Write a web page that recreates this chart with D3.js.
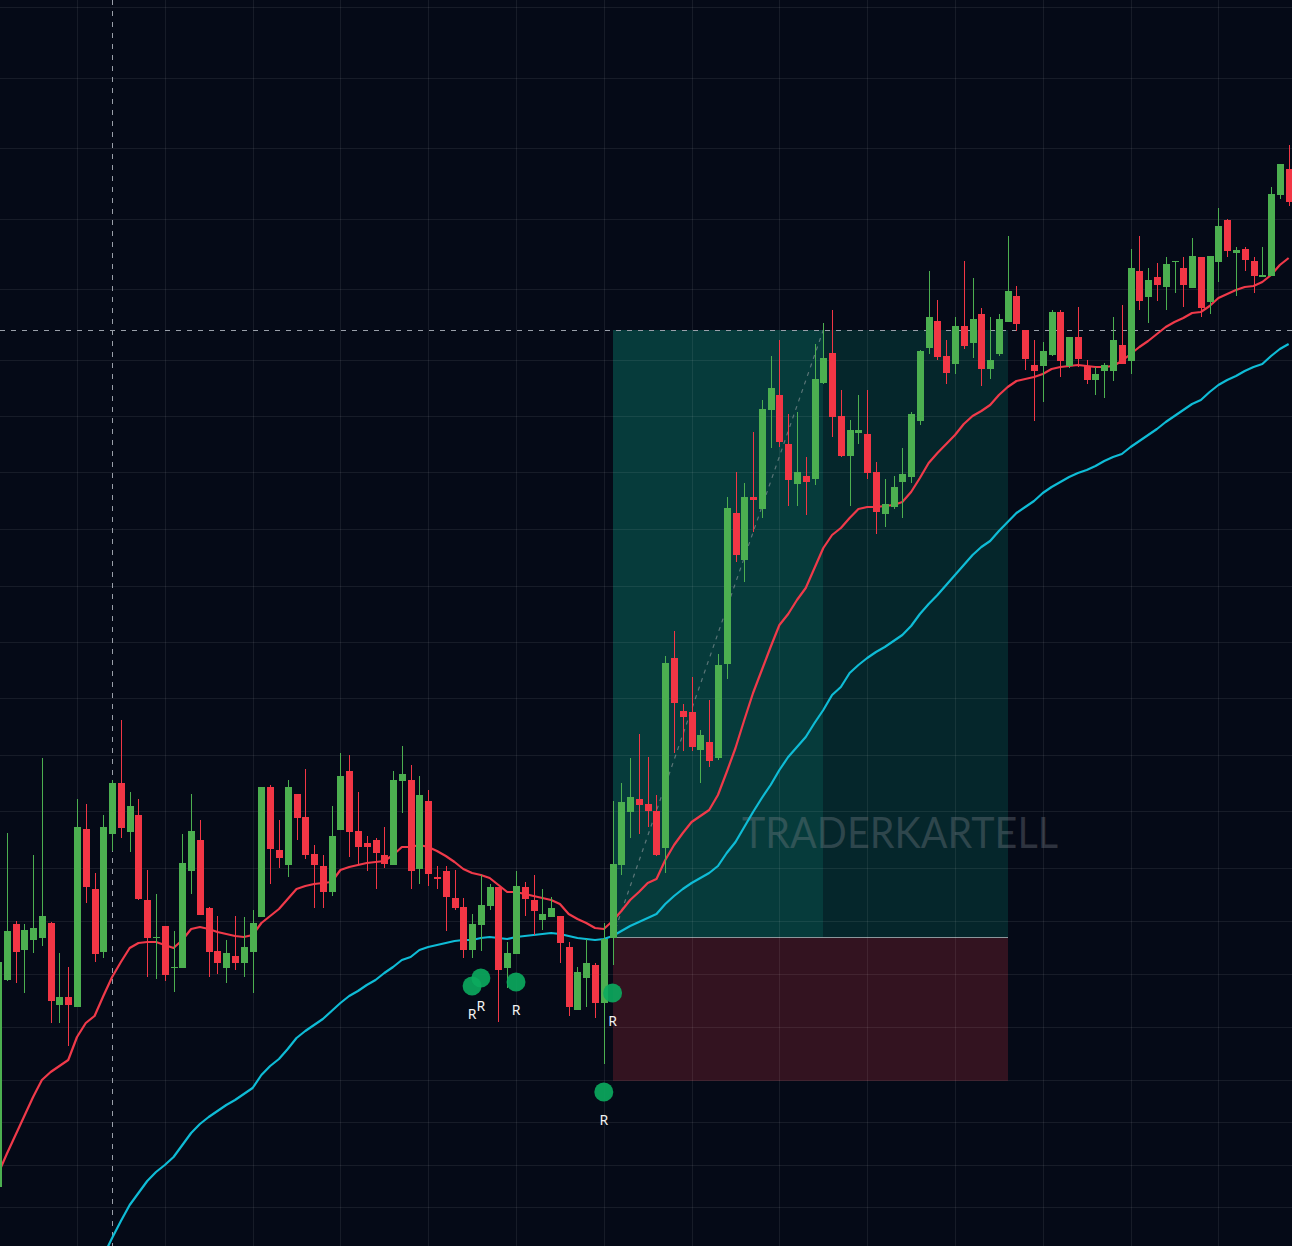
<!DOCTYPE html>
<html><head><meta charset="utf-8">
<script src="https://cdn.jsdelivr.net/npm/d3@7"></script>
<style>html,body{margin:0;padding:0;background:#050a17;overflow:hidden}svg{display:block}</style>
</head><body><svg id="c" width="1292" height="1246"></svg>
<script>
// ---------- DATA (bar position 0 = first, partly hidden bar) ----------
const open = [5.9,
26.6,32.2,29.6,30.6,30.8,32.3,24.1,24.9,23.9,41.7,
35.7,29.4,41.2,46.3,41.4,43.1,34.6,30.8,32.0,27.8,
27.8,37.5,40.6,33.8,29.5,27.8,29.0,28.3,29.4,32.9,
45.9,39.6,38.1,45.2,42.9,39.2,38.0,35.4,41.6,47.5,
41.5,40.3,40.6,39.1,38.1,46.5,46.6,37.7,44.5,36.9,
37.5,34.8,33.9,29.6,32.1,34.0,35.9,27.8,29.2,35.9,
34.6,32.6,32.9,33.0,29.9,23.6,26.8,28.1,24.3,30.8,
38.1,43.4,44.7,44.2,43.5,39.8,58.8,53.5,53.4,49.6,
50.4,48.8,58.2,73.3,68.6,74.9,73.7,83.6,85.1,80.2,
76.2,77.0,76.7,86.3,89.3,83.0,79.0,81.3,81.2,77.4,
73.2,73.9,76.4,76.9,82.5,89.8,92.5,89.0,88.2,92.0,
90.3,93.2,87.7,89.2,92.4,95.0,91.6,88.1,88.0,89.1,
93.4,88.0,90.9,88.0,86.6,87.5,87.5,90.1,88.5,97.5,
94.9,96.9,95.9,98.4,97.8,95.8,98.9,94.4,98.4,102.6,
99.3,99.7,98.5,96.9,97.0,105.1,107.7];
const high = [29.1,
41.3,32.5,32.2,39.1,48.8,32.4,29.3,27.9,44.7,44.2,
37.3,43.1,46.6,52.6,45.4,44.7,37.6,35.2,32.0,31.5,
41.2,45.2,42.6,33.9,33.0,30.6,33.0,32.9,33.6,45.9,
46.1,42.6,46.6,45.2,47.7,40.1,39.1,44.0,49.3,49.1,
45.4,41.0,40.8,41.9,47.5,50.0,48.1,47.0,45.6,38.0,
38.0,37.6,34.8,33.2,37.1,36.2,35.9,30.4,37.5,36.4,
37.1,35.7,34.9,33.0,30.4,27.9,30.7,28.3,32.3,44.5,
46.3,48.8,51.2,48.9,45.1,59.0,61.5,54.2,56.9,51.6,
54.6,59.2,74.9,77.4,76.3,81.4,84.6,89.0,90.6,83.2,
83.4,78.9,90.2,92.3,93.6,85.6,82.6,85.1,85.6,78.4,
76.7,77.0,79.8,83.4,89.6,97.5,94.6,90.6,92.9,98.5,
96.8,93.8,92.9,93.2,101.0,96.0,91.6,90.6,90.4,93.6,
93.6,90.9,93.9,88.6,87.9,88.3,92.9,94.1,99.7,101.0,
97.8,98.3,98.9,98.5,98.9,100.8,98.9,99.0,103.8,102.7,
99.9,99.9,98.9,99.9,105.9,108.2,110.1];
const low = [5.6,
26.5,26.3,25.3,29.3,30.0,22.3,22.3,20.0,23.9,34.3,
28.4,28.8,39.5,40.8,39.4,34.6,26.9,26.7,26.5,25.4,
27.8,35.2,33.1,26.9,27.2,26.3,27.6,26.9,25.3,32.9,
36.2,37.8,36.9,40.6,38.7,33.8,33.8,35.0,41.6,38.9,
38.2,37.5,35.7,37.8,38.1,43.3,35.7,36.2,36.0,35.7,
31.5,33.6,28.8,28.8,29.5,33.6,22.4,25.8,29.2,33.0,
31.1,31.6,32.9,28.3,23.0,23.6,23.9,22.8,18.2,28.1,
37.1,40.8,41.2,41.9,39.0,37.3,49.3,49.5,49.5,46.3,
47.9,48.6,56.7,68.4,66.4,71.4,72.8,79.8,79.9,74.0,
74.0,73.1,76.1,86.2,80.9,78.9,74.0,80.2,76.7,71.2,
71.9,73.7,72.8,76.3,82.1,89.2,88.6,86.2,87.2,89.7,
88.8,86.0,86.7,89.0,92.4,91.5,87.6,82.5,84.4,89.0,
86.9,87.8,87.9,86.2,85.1,84.8,86.5,88.2,87.2,93.6,
92.3,94.5,93.6,95.3,93.9,95.8,92.9,93.2,96.4,98.9,
95.0,97.5,95.3,96.9,97.0,104.7,104.0];
const close = [28.4,
31.5,29.4,31.6,31.8,33.0,24.5,24.9,24.1,41.9,35.9,
29.2,41.9,46.3,41.8,44.0,34.7,30.8,30.9,27.1,27.9,
38.3,41.5,33.1,29.4,28.3,29.3,28.3,29.9,32.3,45.9,
39.7,38.8,45.9,42.8,39.1,38.1,35.4,41.0,47.0,41.4,
39.9,39.9,39.3,38.2,46.6,47.2,37.5,45.1,37.2,36.7,
34.9,33.8,29.6,32.2,34.1,35.9,27.6,29.3,36.0,34.7,
33.5,33.2,33.8,30.3,23.9,27.4,28.3,24.3,30.7,38.2,
44.4,44.9,44.1,43.5,39.1,58.3,54.3,52.9,49.9,51.1,
48.5,58.1,73.8,69.1,74.9,74.6,83.7,85.8,80.4,76.6,
77.4,76.4,86.7,88.8,82.9,79.0,81.6,81.6,77.3,73.4,
74.2,75.9,77.2,83.2,89.5,92.9,88.9,87.3,92.0,90.0,
92.7,87.7,88.6,92.7,95.5,92.2,88.7,87.5,89.5,93.4,
88.5,90.9,88.7,86.6,87.2,88.1,90.6,88.2,97.8,94.5,
96.6,96.1,98.2,98.5,96.1,99.0,93.8,99.0,102.0,99.5,
99.6,98.6,97.0,97.1,105.2,108.2,104.4];
// moving averages
const maFast = [7.2,
9.2,11.1,13.0,14.9,16.6,17.4,18.0,18.6,20.9,22.3,
23.0,25.0,26.9,28.4,29.8,30.3,30.4,30.4,30.1,29.8,
30.6,31.7,31.9,31.7,31.4,31.2,31.0,30.9,31.1,32.3,
33.0,33.7,34.7,35.7,36.0,36.2,36.3,36.4,37.6,37.9,
38.1,38.3,38.4,38.5,39.1,39.9,39.9,40.1,39.9,39.5,
39.0,38.4,37.7,37.3,37.1,36.8,36.1,35.4,35.4,35.2,
35.0,34.8,34.6,34.2,33.2,32.7,32.3,31.8,31.7,32.5,
33.5,34.6,35.4,36.3,36.7,38.6,40.1,41.3,42.4,43.0,
43.6,45.1,47.4,49.8,52.6,55.3,57.6,59.9,62.1,63.2,
64.6,65.8,67.8,69.8,71.1,71.8,72.8,73.7,73.9,73.9,
74.0,74.1,74.4,75.4,76.8,78.3,79.3,80.2,81.1,82.2,
83.0,83.5,84.1,85.1,85.9,86.5,86.7,86.9,87.2,87.7,
87.9,88.0,88.1,88.0,87.9,87.9,88.0,88.5,89.2,89.9,
90.5,91.2,91.9,92.4,92.8,93.3,93.4,94.0,94.8,95.2,
95.6,95.9,96.0,96.4,97.1,98.1,98.8];
const maSlow = [null,
null,null,null,null,null,null,null,null,null,null,
null,-1.0,0.8,2.5,4.1,5.3,6.5,7.4,8.1,8.9,
10.1,11.3,12.2,12.9,13.5,14.1,14.6,15.2,15.8,17.1,
18.0,18.7,19.7,20.8,21.5,22.1,22.7,23.5,24.3,25.0,
25.5,26.1,26.6,27.3,27.9,28.6,28.9,29.6,29.9,30.1,
30.3,30.5,30.6,30.6,30.8,30.9,30.8,30.7,30.9,31.0,
31.1,31.2,31.3,31.2,31.0,30.8,30.7,30.6,30.7,31.0,
31.5,32.0,32.4,32.8,33.2,34.2,35.0,35.7,36.3,36.8,
37.3,38.0,39.3,40.4,41.9,43.4,44.8,46.1,47.6,48.9,
49.9,50.9,52.3,53.6,55.1,55.9,57.3,58.1,58.8,59.4,
59.9,60.5,61.1,62.0,63.2,64.2,65.1,66.1,67.1,68.1,
69.1,69.9,70.5,71.5,72.4,73.3,73.9,74.5,75.3,75.9,
76.4,76.9,77.3,77.6,78.0,78.5,78.9,79.2,79.9,80.5,
81.1,81.7,82.4,83.0,83.6,84.2,84.6,85.4,86.1,86.6,
87.0,87.5,87.9,88.2,89.0,89.7,90.2];
// price grid levels and time grid bars
const priceTicks = [123.9,116.8,109.8,102.7,95.7,88.6,83.0,77.4,71.7,66.0,60.4,54.8,49.1,43.5,37.8,32.5,27.2,21.9,16.6,12.4,8.1,3.9];
const timeTicks = [9,19,29,39,49,59,69,79,89,99,109,119,129,139];
// signal markers ("R")
const markerBars = [54,55,59,69,70];
const markerPrices = [26.0,26.8,26.4,15.4,25.3];
// long position tool
const posEntryBar = 70, posHitBar = 94, posEndBar = 115;
const posEntry = 30.9, posTarget = 91.6, posStop = 16.5;
// crosshair
const crossBar = 13, crossPrice = 91.6;
const watermark = "TRADERKARTELL";

// ---------- CHART ----------
const W = 1292, H = 1246;
const svg = d3.select("#c");
const x = d3.scaleLinear().domain([0, 147]).range([-2.02, 1288.64]);
const y = d3.scaleLinear().domain([0, 124.6]).range([H, 0]);
const px = v => Math.round(x(v));
const py = v => Math.round(y(v));

svg.append("rect").attr("width", W).attr("height", H).attr("fill", "#050a17");

// position tool boxes
const pos = svg.append("g");
pos.append("rect").attr("x", px(posEntryBar)).attr("y", py(posTarget))
  .attr("width", px(posHitBar) - px(posEntryBar)).attr("height", py(posEntry) - py(posTarget)).attr("fill", "#063b3b");
pos.append("rect").attr("x", px(posHitBar)).attr("y", py(posTarget))
  .attr("width", px(posEndBar) - px(posHitBar)).attr("height", py(posEntry) - py(posTarget)).attr("fill", "#05262b");
pos.append("rect").attr("x", px(posEntryBar)).attr("y", py(posEntry))
  .attr("width", px(posEndBar) - px(posEntryBar)).attr("height", py(posStop) - py(posEntry)).attr("fill", "#331320");

// grid
const grid = svg.append("g").attr("stroke", "rgba(255,255,255,0.075)").attr("stroke-width", 1);
grid.selectAll("line.h").data(priceTicks).join("line")
  .attr("x1", 0).attr("x2", W).attr("y1", d => py(d) + 0.5).attr("y2", d => py(d) + 0.5);
grid.selectAll("line.v").data(timeTicks).join("line")
  .attr("y1", 0).attr("y2", H).attr("x1", d => px(d) + 0.5).attr("x2", d => px(d) + 0.5);

// watermark
svg.append("text").text(watermark)
  .attr("x", 742).attr("y", 848)
  .attr("font-family", "Lato, 'Open Sans', sans-serif").attr("font-size", 43)
  .attr("textLength", 316).attr("lengthAdjust", "spacingAndGlyphs")
  .attr("fill", "rgba(126,132,140,0.34)");

// crosshair
svg.append("line").attr("x1", px(crossBar) + 0.5).attr("x2", px(crossBar) + 0.5).attr("y1", 0).attr("y2", H)
  .attr("stroke", "#9aa0aa").attr("stroke-dasharray", "5,6");
svg.append("line").attr("x1", 0).attr("x2", W).attr("y1", py(crossPrice) + 0.5).attr("y2", py(crossPrice) + 0.5)
  .attr("stroke", "#9aa0aa").attr("stroke-dasharray", "5,6");

// entry line & diagonal
pos.append("line").attr("x1", px(posEntryBar)).attr("x2", px(posEndBar))
  .attr("y1", py(posEntry) + 0.5).attr("y2", py(posEntry) + 0.5).attr("stroke", "#8b979c");
svg.append("line").attr("x1", x(posEntryBar)).attr("y1", y(posEntry))
  .attr("x2", x(posHitBar)).attr("y2", y(posTarget))
  .attr("stroke", "rgba(160,165,170,0.55)").attr("stroke-dasharray", "4,5").attr("stroke-width", 1.2);

// moving averages
const line = d3.line().defined(d => d != null).x((d, i) => x(i)).y(d => y(d));
svg.append("path").datum(maSlow).attr("d", line).attr("fill", "none")
  .attr("stroke", "#0fbcd6").attr("stroke-width", 2.2).attr("stroke-linejoin", "round");
svg.append("path").datum(maFast).attr("d", line).attr("fill", "none")
  .attr("stroke", "#f03a4a").attr("stroke-width", 2.2).attr("stroke-linejoin", "round");

// candles
const bars = open.map((o, i) => ({i, o, h: high[i], l: low[i], c: close[i]}));
const up = "#4caf50", dn = "#f23645";
const cg = svg.append("g");
const cs = cg.selectAll("g").data(bars).join("g");
cs.append("line")
  .attr("x1", d => px(d.i) + 0.5).attr("x2", d => px(d.i) + 0.5)
  .attr("y1", d => py(d.h)).attr("y2", d => py(d.l))
  .attr("stroke", d => d.c >= d.o ? up : dn).attr("stroke-width", 1);
cs.append("rect")
  .attr("x", d => px(d.i) - 3).attr("width", 7)
  .attr("y", d => py(Math.max(d.o, d.c)))
  .attr("height", d => Math.max(1, py(Math.min(d.o, d.c)) - py(Math.max(d.o, d.c))))
  .attr("fill", d => d.c >= d.o ? up : dn);

// markers
const mk = markerBars.map((b, k) => ({b, p: markerPrices[k]}));
const mg = svg.append("g");
mg.selectAll("circle").data(mk).join("circle")
  .attr("cx", d => x(d.b)).attr("cy", d => y(d.p)).attr("r", 9.5)
  .attr("fill", "#0bab5e").attr("fill-opacity", 0.9);
mg.selectAll("text").data(mk).join("text")
  .attr("x", d => x(d.b)).attr("y", d => y(d.p) + 33)
  .attr("text-anchor", "middle").attr("font-family", "'Noto Sans', 'Open Sans', sans-serif")
  .attr("font-size", 14).attr("fill", "#f2f2f2").text("R");
</script></body></html>
